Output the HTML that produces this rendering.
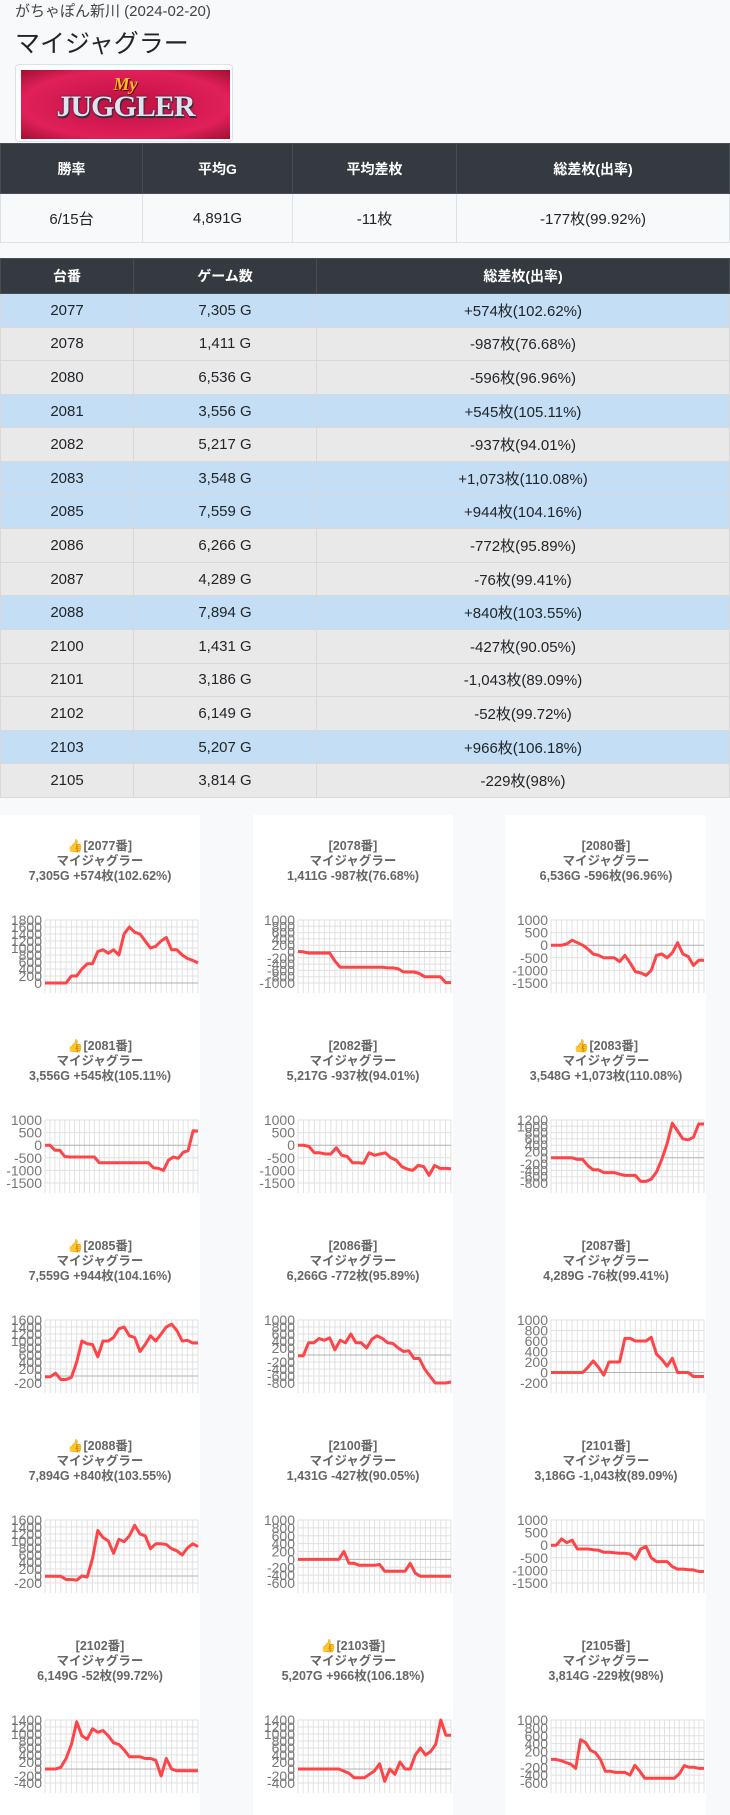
<!DOCTYPE html>
<html><head><meta charset="utf-8">
<style>
*{box-sizing:border-box;margin:0;padding:0}
body{width:730px;height:1814px;background:#f8f9fa;font-family:"Liberation Sans","Noto Sans CJK JP",sans-serif;color:#212529;position:relative;overflow:hidden}
.t1{position:absolute;left:15px;top:0px;font-size:15px;color:#444}
.t2{position:absolute;left:15px;top:24px;font-size:25px;color:#212529}
.imgbox{position:absolute;left:15px;top:64px;width:218px;height:78px;border:1px solid #dee2e6;border-radius:4px;background:#fff}
.img{position:absolute;left:5px;top:5px;width:209px;height:69px;background:radial-gradient(ellipse at center,#c01040,#e0205a 70%,#a01030);overflow:hidden}
.img .my{position:absolute;left:0;width:100%;top:4px;text-align:center;font:bold italic 18px "Liberation Serif",serif;color:#f0c020;text-shadow:1px 1px 0 #600}
.img .jg{position:absolute;left:0;width:100%;top:20px;text-align:center;font:bold 30px "Liberation Serif",serif;color:#dde4f0;letter-spacing:-1px;text-shadow:0 0 2px #223,1px 2px 0 #334}
table{position:absolute;left:0;width:730px;border-collapse:collapse;text-align:center;font-size:15px}
th{background:#343a40;color:#fff;font-weight:bold;border:1px solid #454d55;font-size:14px}
#tA{top:143px}
#tA th{height:50px}
#tA td{height:49px;background:#f8f9fa;border:1px solid #dee2e6}
#tB{top:258px}
#tB th{height:35px}
#tB td{height:33.6px;border:1px solid #d8d8d8;padding:0}
tr.b td{background:#c4dff5;border-color:#8cbfe6}
tr.g td{background:#e9e9e9}
.card{position:absolute;top:815px;width:200px;height:1000px;background:#fff}
.ct{position:absolute;width:200px;text-align:center;font-size:12.5px;font-weight:bold;color:#666;line-height:15px}
svg{position:absolute;left:0;top:0}
</style></head><body>
<div class="t1">がちゃぽん新川 (2024-02-20)</div>
<div class="t2">マイジャグラー</div>
<div class="imgbox"><div class="img"><div class="my">My</div><div class="jg">JUGGLER</div></div></div>

<table id="tA"><tr><th style="width:142px">勝率</th><th style="width:150px">平均G</th><th style="width:164px">平均差枚</th><th>総差枚(出率)</th></tr>
<tr><td>6/15台</td><td>4,891G</td><td>-11枚</td><td>-177枚(99.92%)</td></tr></table>

<table id="tB"><tr><th style="width:133px">台番</th><th style="width:183px">ゲーム数</th><th>総差枚(出率)</th></tr>
<tr class="b"><td>2077</td><td>7,305 G</td><td>+574枚(102.62%)</td></tr>
<tr class="g"><td>2078</td><td>1,411 G</td><td>-987枚(76.68%)</td></tr>
<tr class="g"><td>2080</td><td>6,536 G</td><td>-596枚(96.96%)</td></tr>
<tr class="b"><td>2081</td><td>3,556 G</td><td>+545枚(105.11%)</td></tr>
<tr class="g"><td>2082</td><td>5,217 G</td><td>-937枚(94.01%)</td></tr>
<tr class="b"><td>2083</td><td>3,548 G</td><td>+1,073枚(110.08%)</td></tr>
<tr class="b"><td>2085</td><td>7,559 G</td><td>+944枚(104.16%)</td></tr>
<tr class="g"><td>2086</td><td>6,266 G</td><td>-772枚(95.89%)</td></tr>
<tr class="g"><td>2087</td><td>4,289 G</td><td>-76枚(99.41%)</td></tr>
<tr class="b"><td>2088</td><td>7,894 G</td><td>+840枚(103.55%)</td></tr>
<tr class="g"><td>2100</td><td>1,431 G</td><td>-427枚(90.05%)</td></tr>
<tr class="g"><td>2101</td><td>3,186 G</td><td>-1,043枚(89.09%)</td></tr>
<tr class="g"><td>2102</td><td>6,149 G</td><td>-52枚(99.72%)</td></tr>
<tr class="b"><td>2103</td><td>5,207 G</td><td>+966枚(106.18%)</td></tr>
<tr class="g"><td>2105</td><td>3,814 G</td><td>-229枚(98%)</td></tr>
</table>

<div class="card" style="left:0"></div>
<div class="card" style="left:253px"></div>
<div class="card" style="left:506px"></div>
<div id="charts"></div>
<svg id="sv" width="730" height="1814" style="pointer-events:none"></svg>

<script>
var C=[
["👍[2077番]","7,305G +574枚(102.62%)",0,1800,200,[0,0,0,0,0,200,200,400,550,550,900,950,850,950,800,1400,1600,1450,1400,1200,1000,1050,1200,1300,950,950,800,700,650,574]],
["[2078番]","1,411G -987枚(76.68%)",-1000,1000,200,[0,-10,-50,-50,-50,-50,-50,-300,-500,-500,-500,-500,-500,-500,-500,-500,-500,-520,-520,-550,-650,-650,-650,-700,-800,-800,-800,-800,-987,-987]],
["[2080番]","6,536G -596枚(96.96%)",-1500,1000,500,[0,0,0,50,200,100,0,-150,-350,-400,-500,-500,-500,-650,-400,-700,-1050,-1100,-1200,-1000,-400,-350,-500,-300,100,-350,-450,-800,-600,-596]],
["👍[2081番]","3,556G +545枚(105.11%)",-1500,1000,500,[0,0,-200,-200,-450,-470,-470,-470,-470,-470,-470,-700,-700,-700,-700,-700,-700,-700,-700,-700,-700,-700,-900,-920,-1000,-600,-470,-520,-280,-220,574,560]],
["[2082番]","5,217G -937枚(94.01%)",-1500,1000,500,[0,0,-50,-300,-300,-350,-350,-100,-400,-450,-700,-700,-720,-300,-400,-350,-300,-500,-600,-850,-950,-1000,-800,-850,-1200,-800,-920,-920,-937]],
["👍[2083番]","3,548G +1,073枚(110.08%)",-800,1200,200,[0,0,0,0,0,-50,-50,-250,-380,-380,-470,-470,-470,-520,-560,-560,-560,-750,-750,-680,-450,-50,450,1100,850,600,570,650,1073,1073]],
["👍[2085番]","7,559G +944枚(104.16%)",-200,1600,200,[-20,-20,80,-100,-100,-40,400,1000,920,900,550,1000,1000,1100,1350,1400,1150,1100,700,900,1150,1000,1200,1400,1480,1300,1000,1020,944,944]],
["[2086番]","6,266G -772枚(95.89%)",-800,1000,200,[-20,-20,350,350,470,420,490,150,420,350,600,350,350,200,450,550,470,350,330,200,100,120,-100,-100,-400,-600,-800,-800,-800,-772]],
["[2087番]","4,289G -76枚(99.41%)",-200,1000,200,[0,0,0,0,0,0,0,100,220,100,-50,200,200,200,650,650,600,600,600,670,350,250,120,270,0,0,0,-76,-76,-76]],
["👍[2088番]","7,894G +840枚(103.55%)",-200,1600,200,[-10,-10,-10,-10,-100,-100,-120,0,-30,500,1300,1100,1000,650,1050,980,1150,1450,1200,1150,780,920,920,900,780,720,600,800,920,840]],
["[2100番]","1,431G -427枚(90.05%)",-600,1000,200,[0,0,0,0,0,0,0,0,0,200,-100,-100,-150,-150,-150,-150,-130,-300,-300,-300,-300,-300,-100,-350,-430,-430,-430,-430,-430,-430,-427]],
["[2101番]","3,186G -1,043枚(89.09%)",-1500,1000,500,[0,0,250,100,200,-150,-150,-150,-180,-200,-280,-280,-300,-320,-320,-350,-550,-150,-50,-500,-650,-650,-650,-850,-950,-950,-970,-980,-1043,-1043]],
["[2102番]","6,149G -52枚(99.72%)",-400,1400,200,[0,0,0,50,300,700,1350,950,850,1150,1050,1100,950,750,700,550,350,350,350,300,300,250,-200,300,0,-50,-50,-52,-52,-52]],
["👍[2103番]","5,207G +966枚(106.18%)",-400,1400,200,[0,0,0,0,0,0,0,0,0,-60,-120,-250,-250,-250,-150,-50,150,-350,0,-150,200,0,0,400,600,400,500,700,1400,966,966]],
["[2105番]","3,814G -229枚(98%)",-600,1000,200,[0,0,-30,-80,-120,-230,500,430,230,170,0,-300,-300,-330,-330,-330,-400,-150,-300,-480,-480,-480,-480,-480,-480,-480,-370,-160,-200,-200,-229,-229]]
];
var s='',h='';
C.forEach(function(c,i){
 var col=i%3,row=Math.floor(i/3),cx=[0,253,506][col];
 var ty=839+row*200;
 h+='<div class="ct" style="left:'+cx+'px;top:'+ty+'px">'+c[0]+'<br>マイジャグラー<br>'+c[1]+'</div>';
 var x0=cx+45,x1=cx+198,top=920+row*200,bot=top+63,mn=c[2],mx=c[3],st=c[4],d=c[5];
 function Y(v){return top+(mx-v)/(mx-mn)*(bot-top);}
 var n=d.length;
 for(var k=0;k<n;k++){var x=x0+(x1-x0)*k/(n-1);s+='<line x1="'+x+'" y1="'+top+'" x2="'+x+'" y2="'+(bot+10)+'" stroke="#e2e2e2" stroke-width="1"/>';}
 for(var v=mn;v<=mx;v+=st){var y=Y(v);s+='<line x1="'+x0+'" y1="'+y+'" x2="'+x1+'" y2="'+y+'" stroke="'+(v==0?'#b0b0b0':'#e0e0e0')+'" stroke-width="1"/>';
  s+='<text x="'+(x0-3)+'" y="'+(y+5)+'" text-anchor="end" font-size="14" fill="#777" font-family="Liberation Sans,sans-serif">'+v+'</text>';}
 var p=d.map(function(v,k){return (x0+(x1-x0)*k/(n-1)).toFixed(1)+','+Y(v).toFixed(1)}).join(' ');
 s+='<polyline points="'+p+'" fill="none" stroke="#ff4448" stroke-width="3" stroke-linejoin="round"/>';
});
document.getElementById('charts').innerHTML=h;
document.getElementById('sv').innerHTML=s;
</script>
</body></html>
